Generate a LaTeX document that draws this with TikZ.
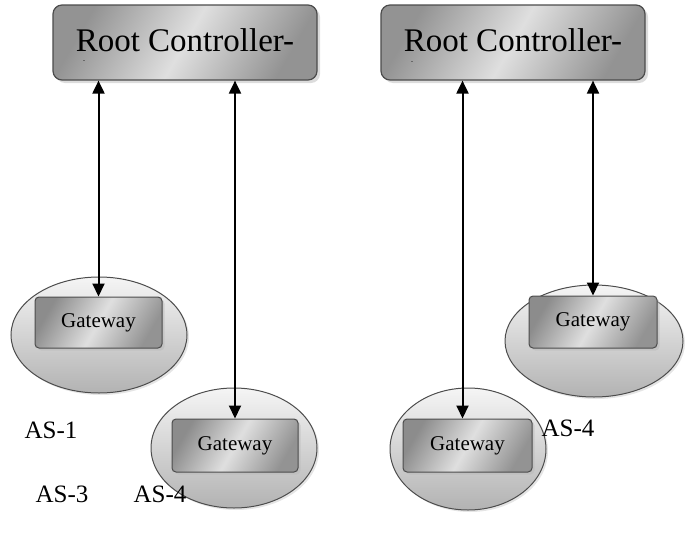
\documentclass[tikz,border=0pt]{standalone}
\usepackage{fontspec}
\setmainfont{Liberation Serif}
\usetikzlibrary{arrows.meta,shadows,shapes.geometric}
\begin{document}
\begin{tikzpicture}[x=1pt,y=-1pt,
  rootbox/.style={draw=gray!60!black, line width=1.2pt, rounded corners=9pt,
    minimum width=264pt, minimum height=75pt, inner sep=0pt,
    shading=axis, left color=gray!85, right color=gray!85, middle color=gray!25, shading angle=60,
    drop shadow={shadow xshift=3pt, shadow yshift=-3pt, fill=gray!55},
    font=\fontsize{33}{36}\selectfont},
  gwbox/.style={draw=gray!60!black, line width=1pt, rounded corners=4pt,
    inner sep=0pt,
    shading=axis, left color=gray!90, right color=gray!85, middle color=gray!25, shading angle=60,
    drop shadow={shadow xshift=2.5pt, shadow yshift=-2.5pt, fill=gray!55},
    font=\fontsize{21}{23}\selectfont},
  asell/.style={ellipse, draw=gray!60!black, line width=1pt, inner sep=0pt,
    top color=gray!8, bottom color=gray!60,
    drop shadow={shadow xshift=2pt, shadow yshift=-2pt, fill=gray!40}},
  aslabel/.style={font=\fontsize{25}{28}\selectfont, inner sep=0pt},
  dot/.style={font=\fontsize{6}{6}\selectfont, inner sep=0pt},
  link/.style={line width=2pt, {Triangle[length=13pt,width=12pt]}-{Triangle[length=13pt,width=12pt]}}
]
\useasboundingbox (0,0) rectangle (691,533);

% root controllers
\node[rootbox] (rc1) at (185,42.5) {\raisebox{5pt}{Root Controller-}};
\node[rootbox] (rc2) at (513,42.5) {\raisebox{5pt}{Root Controller-}};
\node[dot] (d1) at (84,62) {-};
\node[dot] (d2) at (412,63) {-};

% autonomous systems
\node[asell, minimum width=176pt, minimum height=116pt] (e1) at (99,335) {};
\node[asell, minimum width=166pt, minimum height=120pt] (e2) at (234,448) {};
\node[asell, minimum width=156pt, minimum height=122pt] (e3) at (468,449) {};
\node[asell, minimum width=178pt, minimum height=112pt] (e4) at (594,341) {};

% gateways
\node[gwbox, minimum width=127pt, minimum height=51pt] (gw1) at (98.5,322.5) {Gateway};
\node[gwbox, minimum width=126pt, minimum height=53pt] (gw2) at (235,445.5) {Gateway};
\node[gwbox, minimum width=129pt, minimum height=53pt] (gw3) at (467.5,445.5) {Gateway};
\node[gwbox, minimum width=128pt, minimum height=52pt] (gw4) at (593,322) {Gateway};

% labels
\node[aslabel] (l1) at (51,430) {AS-1};
\node[aslabel] (l2) at (62,494) {AS-3};
\node[aslabel] (l3) at (160,494) {AS-4};
\node[aslabel] (l4) at (568,428) {AS-4};

% links
\draw[link] (rc1.south -| gw1.north) -- (gw1.north);
\draw[link] (rc1.south -| gw2.north) -- (gw2.north);
\coordinate (g3top) at ([xshift=-5pt]gw3.north);
\draw[link] (rc2.south -| g3top) -- (g3top);
\draw[link] (rc2.south -| gw4.north) -- (gw4.north);
\end{tikzpicture}
\end{document}
